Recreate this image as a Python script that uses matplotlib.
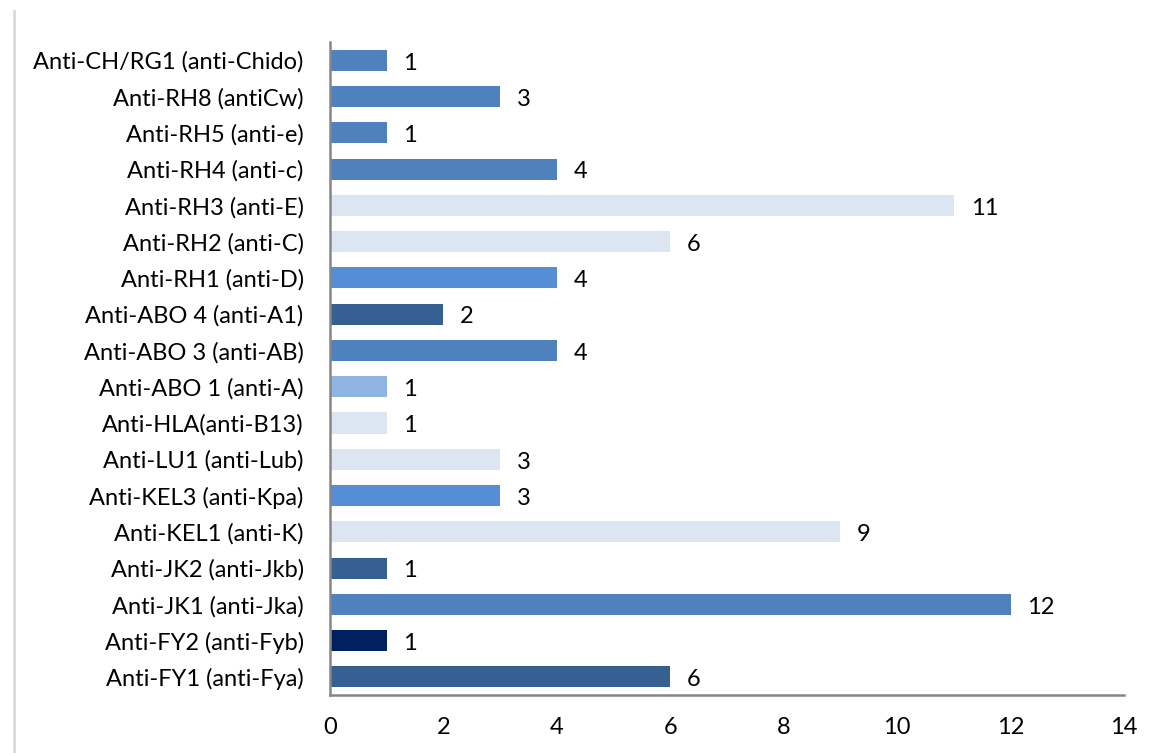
import matplotlib
matplotlib.use('Agg')
import matplotlib.pyplot as plt
from matplotlib.lines import Line2D

# categories listed bottom -> top
labels = [
    'Anti-FY1 (anti-Fya)', 'Anti-FY2 (anti-Fyb)', 'Anti-JK1 (anti-Jka)',
    'Anti-JK2 (anti-Jkb)', 'Anti-KEL1 (anti-K)', 'Anti-KEL3 (anti-Kpa)',
    'Anti-LU1 (anti-Lub)', 'Anti-HLA(anti-B13)', 'Anti-ABO 1 (anti-A)',
    'Anti-ABO 3 (anti-AB)', 'Anti-ABO 4 (anti-A1)', 'Anti-RH1 (anti-D)',
    'Anti-RH2 (anti-C)', 'Anti-RH3 (anti-E)', 'Anti-RH4 (anti-c)',
    'Anti-RH5 (anti-e)', 'Anti-RH8 (antiCw)', 'Anti-CH/RG1 (anti-Chido)',
]
counts = [6, 1, 12, 1, 9, 3, 3, 1, 1, 4, 2, 4, 6, 11, 4, 1, 3, 1]
bar_colors = [
    '#376092', '#002060', '#4F81BD', '#376092', '#DCE6F2', '#558ED5',
    '#DCE6F2', '#DCE6F2', '#8EB4E3', '#4F81BD', '#376092', '#558ED5',
    '#DCE6F2', '#DCE6F2', '#4F81BD', '#4F81BD', '#4F81BD', '#4F81BD',
]
xticks = [0, 2, 4, 6, 8, 10, 12, 14]

plt.rcParams['font.family'] = ['Lato', 'DejaVu Sans']

fig = plt.figure(figsize=(11.54, 7.53), dpi=100)
fig.patch.set_facecolor('white')
ax = fig.add_axes([0.286, 0.077, 0.688, 0.867])

ypos = list(range(len(labels)))
bars = ax.barh(ypos, counts, height=0.58, color=bar_colors, zorder=2)

for b, v in zip(bars, counts):
    ax.annotate(str(v), xy=(b.get_width(), b.get_y() + b.get_height() / 2),
                xytext=(12, -2), textcoords='offset points',
                ha='left', va='center', fontsize=17, color='black')

ax.set_xlim(0, 14)
ax.set_ylim(-0.5, len(labels) - 0.5)
ax.set_yticks(ypos)
ax.set_yticklabels(labels, fontsize=17)
ax.set_xticks(xticks)
ax.set_xticklabels([str(t) for t in xticks], fontsize=17)
ax.tick_params(axis='both', length=0)
ax.tick_params(axis='y', pad=19)
ax.tick_params(axis='x', pad=16)

for s in ['top', 'right']:
    ax.spines[s].set_visible(False)
for s in ['left', 'bottom']:
    ax.spines[s].set_color('#868686')
    ax.spines[s].set_linewidth(1.8)

# faint chart border on the left
fig.add_artist(Line2D([0.012, 0.012], [0.0, 0.985], transform=fig.transFigure,
                      color='#D9D9D9', lw=2))

fig.savefig('out.png', dpi=100, facecolor='white')
